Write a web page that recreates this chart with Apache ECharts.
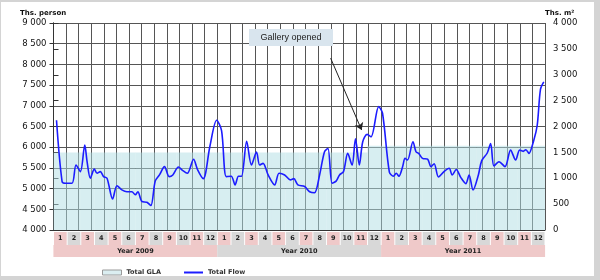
<!DOCTYPE html>
<html><head><meta charset="utf-8">
<script src="https://cdn.jsdelivr.net/npm/echarts/dist/echarts.min.js"></script>
<style>
html,body{margin:0;padding:0;background:#fff}
#c{width:600px;height:280px;position:absolute;left:0;top:0}
#f{position:absolute;left:0;top:0;width:600px;height:280px;box-sizing:border-box;border-top:2px solid #d4d4d4;border-left:1px solid #d4d4d4;border-right:6px solid #d4d4d4;border-bottom:4px solid #d4d4d4;pointer-events:none}
</style>
</head><body><div id="c"></div><div id="f"></div>
<script>
const months = ['1','2','3','4','5','6','7','8','9','10','11','12'];
const years = ['Year 2009','Year 2010','Year 2011'];
const glaValues = [1500,1500,1500,1500,1500,1500,1500,1500,1500,1500,1500,1500,
                   1500,1500,1500,1500,1500,1500,1500,1500,1500,1500,1500,1630,
                   1630,1630,1630,1630,1630,1630,1630,1630,1630,1630,1630,1630];
const flowMonth = [0.22,0.63,0.88,1.36,1.65,1.97,2.29,2.46,2.70,2.99,3.19,3.43,3.67,3.92,
  4.33,4.65,5.01,5.38,5.74,5.99,6.18,6.47,6.84,7.13,7.45,7.76,8.13,8.47,8.74,
  9.15,9.45,9.80,10.26,10.55,10.97,11.46,11.95,12.31,12.65,13.02,13.30,13.55,13.77,
  14.15,14.50,14.87,15.10,15.35,15.72,16.20,16.52,16.93,17.35,17.60,17.90,18.39,18.76,
  19.12,19.49,19.85,20.10,20.41,20.70,20.95,21.24,21.55,21.87,22.12,22.40,22.65,22.97,
  23.26,23.82,24.10,24.60,24.90,25.10,25.30,25.57,25.75,25.93,26.33,26.55,26.75,27.03,
  27.40,27.65,27.88,28.20,28.60,28.98,29.20,29.50,29.83,30.20,30.44,30.73,31.12,31.36,
  31.77,32.02,32.26,32.63,33.07,33.48,33.85,34.14,34.40,34.60,34.82,35.18,35.43,35.67,35.91];
const flowValue = [6650,5170,5130,5130,5570,5410,6050,5650,5250,5470,5370,5410,5290,5250,
  4750,5070,4970,4925,4925,4850,4925,4690,4670,4590,5180,5330,5530,5290,5330,
  5520,5440,5370,5710,5460,5240,6030,6650,6400,5290,5300,5090,5300,5300,
  6140,5570,5880,5570,5610,5330,5090,5370,5330,5210,5240,5090,5050,4925,
  4900,5330,5890,5970,5130,5180,5330,5410,5850,5570,6200,5570,6130,6310,
  6250,6980,6820,5400,5300,5370,5300,5530,5730,5690,6130,5890,5850,5730,
  5710,5530,5600,5280,5410,5490,5330,5460,5270,5120,5330,4966,5330,5670,
  5860,6090,5546,5650,5530,5930,5690,5930,5900,5940,5850,6170,6530,7400,7580];
const leftAxisName = 'Ths. person';
const rightAxisName = 'Ths. m²';
const annotationText = 'Gallery opened';
const annotationFrom = [20.3, 8150];
const annotationTo = [22.57, 6415];

const categories = [];
years.forEach(y => months.forEach(m => categories.push(y + '|' + m)));
const fmt = v => String(v).replace(/\B(?=(\d{3})+(?!\d))/g, ' ');
const PINK = '#efc9c9', GRAY = '#d8d8d8';
const FONT = 'DejaVu Sans';
const cellStyle = bg => ({backgroundColor: bg, width: 12.7, height: 13, lineHeight: 13, align: 'center',
  fontSize: 6.5, fontWeight: 'bold', fontFamily: FONT, color: '#222'});
const yearStyle = bg => ({backgroundColor: bg, width: 164, height: 12, lineHeight: 12, align: 'center',
  fontSize: 6.5, fontWeight: 'bold', fontFamily: FONT, color: '#222'});

const chart = echarts.init(document.getElementById('c'), null, {renderer: 'canvas'});
chart.setOption({
  animation: false,
  backgroundColor: '#fff',
  grid: {left: 53.5, right: 55, top: 23, bottom: 50, containLabel: false, outerBoundsMode: 'none'},
  legend: {
    left: 97, top: 264, itemWidth: 19, itemHeight: 5, itemGap: 22,
    textStyle: {fontSize: 6.5, fontFamily: FONT, color: '#333', fontWeight: 'bold'},
    data: [
      {name: 'Total GLA', icon: 'rect', itemStyle: {color: '#dbeef1', borderColor: '#9a9a9a', borderWidth: 1}},
      {name: 'Total Flow', itemStyle: {opacity: 0}}
    ]
  },
  xAxis: [
    {type: 'category', data: categories, position: 'bottom',
     axisLine: {show: true, lineStyle: {color: '#333'}}, axisTick: {show: false}, splitLine: {show: false},
     axisLabel: {interval: 0, margin: 2,
       formatter: (v, i) => '{' + (i % 2 ? 'g' : 'p') + '|' + v.split('|')[1] + '}',
       rich: {p: cellStyle(PINK), g: cellStyle(GRAY)}}},
    {type: 'category', data: years, position: 'bottom', offset: 15,
     axisLine: {show: false}, axisTick: {show: false}, splitLine: {show: false},
     axisLabel: {interval: 0, margin: 0,
       formatter: (v, i) => '{' + (i % 2 ? 'g' : 'p') + '|' + v + '}',
       rich: {p: yearStyle(PINK), g: yearStyle(GRAY)}}},
    {type: 'value', min: 0, max: 36, show: false},
    {type: 'value', min: 0, max: 39, interval: 1, position: 'top',
     axisLine: {show: false}, axisTick: {show: false}, axisLabel: {show: false},
     splitLine: {show: true, lineStyle: {color: '#555', width: 1}}}
  ],
  yAxis: [
    {type: 'value', min: 4000, max: 9000, interval: 500, position: 'left',
     axisLine: {show: true, lineStyle: {color: '#333'}},
     axisTick: {show: true, length: 4, lineStyle: {color: '#333'}},
     axisLabel: {margin: 7, formatter: fmt, fontSize: 8.5, fontFamily: FONT, color: '#111'},
     splitLine: {show: true, lineStyle: {color: '#555', width: 1}}},
    {type: 'value', min: 0, max: 4000, interval: 500, position: 'right',
     axisLine: {show: true, lineStyle: {color: '#333'}},
     axisTick: {show: true, length: 5, lineStyle: {color: '#333'}},
     axisLabel: {margin: 8, formatter: fmt, fontSize: 8.5, fontFamily: FONT, color: '#111'},
     splitLine: {show: false}}
  ],
  series: [
    {name: 'Total GLA', type: 'bar', xAxisIndex: 0, yAxisIndex: 1, data: glaValues,
     barCategoryGap: '0%', barGap: '0%', silent: true,
     itemStyle: {color: 'rgba(176,221,227,0.5)'}},
    {name: 'Total Flow', type: 'line', xAxisIndex: 2, yAxisIndex: 0,
     data: flowMonth.map((m, i) => [m, flowValue[i]]),
     smooth: 0.3, symbol: 'none', z: 5,
     lineStyle: {color: '#1c1cff', width: 1.6}, itemStyle: {color: '#1c1cff'},
     markLine: {silent: true, symbol: ['none', 'arrow'], symbolSize: 7,
       label: {show: false}, lineStyle: {color: '#222', width: 1, type: 'solid'},
       emphasis: {disabled: true},
       data: [[{coord: annotationFrom}, {coord: annotationTo}]]}}
  ],
  graphic: [
    {type: 'text', x: 20, y: 13, style: {text: leftAxisName, font: 'bold 7px "DejaVu Sans"', fill: '#111', verticalAlign: 'middle'}},
    {type: 'text', x: 545, y: 13, style: {text: rightAxisName, font: 'bold 7px "DejaVu Sans"', fill: '#111', verticalAlign: 'middle'}},
    {type: 'rect', shape: {x: 249, y: 29, width: 84, height: 17}, style: {fill: '#d9e5ee'}, z: 10},
    {type: 'text', x: 291, y: 37.5, z: 11, style: {text: annotationText, font: '9px "Liberation Sans"', fill: '#222', align: 'center', verticalAlign: 'middle'}}
  ]
});
</script></body></html>
